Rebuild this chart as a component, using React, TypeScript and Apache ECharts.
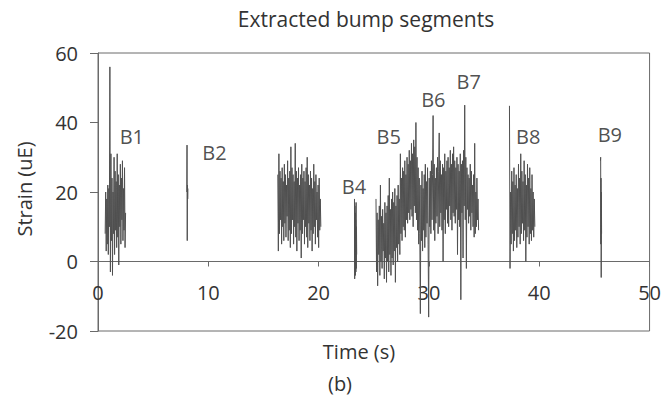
import React, { useEffect, useRef } from "react";
import * as echarts from "echarts";

// Time ranges (s) of each extracted segment
const b1Span = [0.65, 2.5];
const b2Span = [8.05, 8.15];
const b3Span = [16.3, 20.2];
const b4Span = [23.25, 23.45];
const b5to7Span = [25.2, 34.5];
const b8Span = [37.3, 39.6];
const b9Span = [45.55, 45.65];

// Strain values (uE)
const b1Values = [8, 20, 3, 18, 5, 22, 2, 21, 10, 56, -3, 31, 6, 24, -4, 20, 8, 30, 2, 26, 9, 23, 4, 31, 7, 25, -1, 22, 10, 28, 5, 24, 12, 29, 6, 21, 9, 27, 4, 14];
const b2Values = [20, 33.5, 6, 22, 18, 21];
const b3Values = [25, 3, 31, 8, 26, 12, 24, 5, 27, 10, 23, 6, 28, 11, 25, 7, 22, 13, 29, 6, 24, 9, 26, 4, 33, 8, 27, 12, 25, 5, 23, 10, 34, 7, 26, 3, 24, 11, 27, 6, 22, 9, 25, 1, 28, 8, 24, 12, 26, 5, 23, 10, 27, 7, 30, 4, 25, 11, 22, 6, 26, 9, 24, 3, 21, 8, 28, 10, 23, 5, 25, 12, 20, 7, 22, 4, 24, 9, 18, 10];
const b4Values = [18, -5, 16, 0, 14, -4, 12, -3, 17, -2, 10, 2];
const b5to7Values = [
  18, -3, 14, -7, 12, 2, 16, -4, 22, 0,
  13, -2, 15, 3, 11, -5, 17, 1, 14, -6,
  16, 0, 19, -3, 24, 2, 15, -4, 18, 1,
  20, -1, 17, 3, 21, -6, 16, 4, 19, 0,
  22, 5, 18, 2, 31, 8, 24, 6, 27, 10,
  26, 9, 29, 7, 25, 12, 30, 11, 28, 14,
  32, 12, 29, 15, 34, 13, 31, 10, 35, 16,
  33, 14, 40, 12, 30, 9, 27, 5, 24, 8,
  -15, 22, 6, 26, 3, 21, 9, 25, 4, 28,
  7, 23, 11, 27, 5, -16, 24, 10, 26, 8,
  29, 12, 25, 42, 9, 28, 6, 24, 11, 27,
  13, 30, 8, 26, 37, 10, 29, 14, 25, 9,
  28, 0, 27, 12, 31, 8, 26, 15, 29, 11,
  30, 10, 27, 16, 32, 12, 28, 9, 31, 14,
  33, 13, 29, 11, 27, 15, 30, 2, 28, 12,
  26, 10, 31, -11, 28, 14, 29, 1, 32, 16,
  45, 12, 30, -2, 27, 15, 25, 11, 24, 13,
  28, 9, 26, 14, 22, 10, 25, 7, 34, 8,
  20, 10, 24, 12, 18, 9,
];
const b8Values = [44.8, -2, 20, 5, 26, 8, 23, 3, 27, 6, 22, 9, 25, 4, 21, 7, 28, 10, 24, 5, 31, 8, 26, 11, 23, 6, 29, 9, 25, 0, 22, 7, 28, 10, 24, 5, 27, 8, 21, 6, 25, 9, 20, 7, 18, 10];
const b9Values = [29, 30, 5, 24, -4.6, 20, 8];

// Segment labels and their positions (time, strain)
const labelNames = ["B1", "B2", "B4", "B5", "B6", "B7", "B8", "B9"];
const labelTimes = [3.07, 10.56, 23.2, 26.35, 30.4, 33.6, 39.0, 46.4];
const labelStrains = [36.0, 31.4, 21.7, 36.1, 46.6, 51.9, 36.1, 36.5];

const xTicks = [0, 10, 20, 30, 40, 50];
const yTicks = [-20, 0, 20, 40, 60];

const FONT = "'Open Sans', 'Noto Sans', sans-serif";

function toPoints(span: number[], values: number[]) {
  const n = values.length;
  return values.map((v, i) => [span[0] + (i * (span[1] - span[0])) / (n - 1), v]);
}

export default function App() {
  const ref = useRef<HTMLDivElement>(null);

  useEffect(() => {
    if (!ref.current) return;
    const chart = echarts.init(ref.current, undefined, { renderer: "svg" });
    const segs: [number[], number[]][] = [
      [b1Span, b1Values],
      [b2Span, b2Values],
      [b3Span, b3Values],
      [b4Span, b4Values],
      [b5to7Span, b5to7Values],
      [b8Span, b8Values],
      [b9Span, b9Values],
    ];
    const lineSeries = segs.map(([span, vals], i) => ({
      type: "line",
      name: "seg" + i,
      data: toPoints(span, vals),
      showSymbol: false,
      symbol: "none",
      lineStyle: { color: "#505050", width: 1 },
      z: 3,
    }));

    chart.setOption({
      animation: false,
      grid: {
        left: 98,
        right: 12,
        top: 53,
        bottom: 66,
        show: true,
        borderColor: "#6a6a6a",
        borderWidth: 1,
      },
      xAxis: {
        type: "value",
        min: xTicks[0],
        max: xTicks[xTicks.length - 1],
        interval: 10,
        axisLine: { show: true, onZero: true, lineStyle: { color: "#6a6a6a", width: 1 } },
        axisTick: { show: true, inside: false, length: 5, lineStyle: { color: "#6a6a6a" } },
        axisLabel: { margin: -49, fontSize: 20, fontFamily: FONT, color: "#333" },
        splitLine: { show: false },
      },
      yAxis: {
        type: "value",
        min: yTicks[0],
        max: yTicks[yTicks.length - 1],
        interval: 20,
        axisLine: { show: true, lineStyle: { color: "#6a6a6a", width: 1 } },
        axisTick: { show: true, inside: false, length: 8, lineStyle: { color: "#6a6a6a" } },
        axisLabel: { margin: 20, fontSize: 20, fontFamily: FONT, color: "#333" },
        splitLine: { show: false },
      },
      series: [
        ...lineSeries,
        {
          type: "scatter",
          name: "labels",
          symbolSize: 0,
          data: labelNames.map((n, i) => ({ name: n, value: [labelTimes[i], labelStrains[i]] })),
          label: {
            show: true,
            position: "inside",
            formatter: (p: any) => p.name,
            fontSize: 20,
            fontFamily: FONT,
            color: "#222",
          },
          z: 5,
        },
      ],
      graphic: [
        {
          type: "text",
          x: 366,
          y: 19,
          style: {
            text: "Extracted bump segments",
            fontSize: 21,
            fontFamily: FONT,
            fill: "#333",
            textAlign: "center",
            textVerticalAlign: "middle",
          },
        },
        {
          type: "text",
          x: 359,
          y: 351,
          style: {
            text: "Time (s)",
            fontSize: 20,
            fontFamily: FONT,
            fill: "#333",
            textAlign: "center",
            textVerticalAlign: "middle",
          },
        },
        {
          type: "text",
          x: 340,
          y: 383,
          style: {
            text: "(b)",
            fontSize: 20,
            fontFamily: FONT,
            fill: "#333",
            textAlign: "center",
            textVerticalAlign: "middle",
          },
        },
        {
          type: "text",
          x: 24,
          y: 189,
          rotation: Math.PI / 2,
          style: {
            text: "Strain (uE)",
            fontSize: 20,
            fontFamily: FONT,
            fill: "#333",
            textAlign: "center",
            textVerticalAlign: "middle",
          },
        },
      ],
    });
    return () => chart.dispose();
  }, []);

  return (
    <div
      ref={ref}
      style={{ position: "absolute", left: 0, top: 0, width: 664, height: 397, background: "#fff" }}
    />
  );
}
